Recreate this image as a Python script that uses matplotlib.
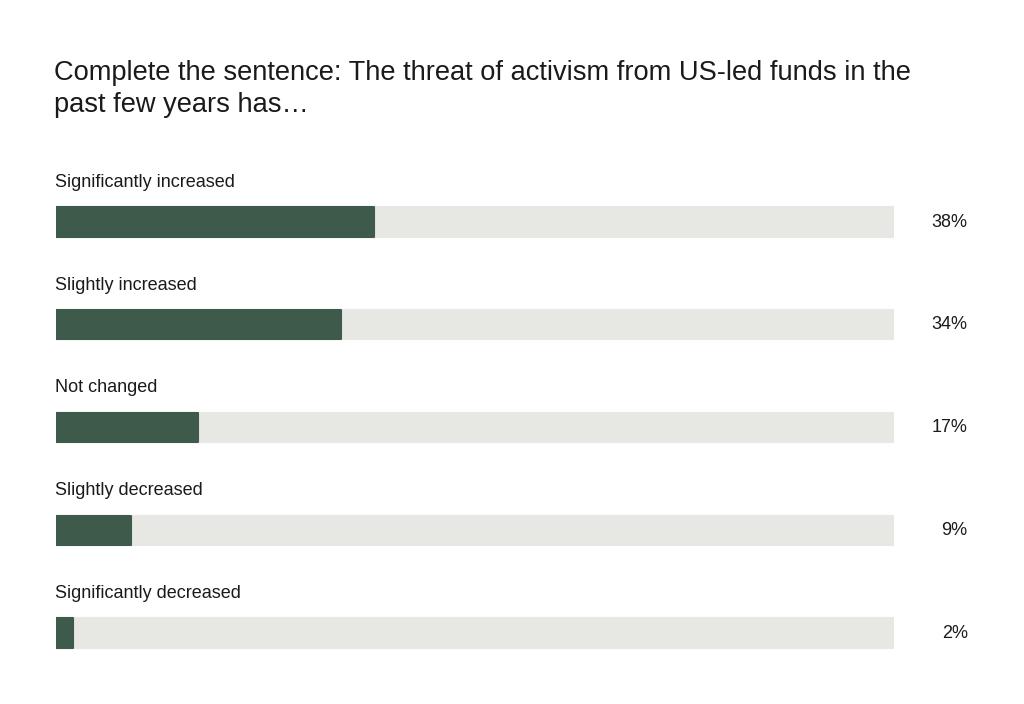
import matplotlib.pyplot as plt

# survey answers, top to bottom
answers = ["Significantly increased", "Slightly increased", "Not changed",
           "Slightly decreased", "Significantly decreased"]
shares = [38, 34, 17, 9, 2]

title = ("Complete the sentence: The threat of activism from US-led funds in the\n"
         "past few years has\u2026")

dark = "#3d5a4b"
track = "#e7e7e3"
ink = "#1a1a1a"

plt.rcParams['font.family'] = ['Liberation Sans', 'DejaVu Sans']

fig = plt.figure(figsize=(10.24, 7.04), dpi=100)
ax = fig.add_axes([56/1024, 0.01328, 838/1024, 0.8173])

ypos = list(range(len(answers)))
# grey track first, then the share on top
ax.barh(ypos, [100]*len(answers), height=0.285, color=track, edgecolor=track,
        linewidth=1.5, joinstyle='round')
ax.barh(ypos, shares, height=0.285, color=dark, edgecolor=dark,
        linewidth=1.5, joinstyle='round')

for y, name, v in zip(ypos, answers, shares):
    ax.text(-0.1, y - 0.385, name, ha='left', va='center', fontsize=13, color=ink)
    ax.text(108.8, y, f"{v}%", ha='right', va='center', fontsize=13,
            color=ink, clip_on=False)

ax.set_xlim(0, 100)
ax.set_ylim(4.6, -1.0)
ax.axis('off')

fig.text(54/1024, 1 - 60/704, title, ha='left', va='top', fontsize=19.6,
         color=ink, linespacing=1.3)

fig.savefig("out.png", dpi=100)
